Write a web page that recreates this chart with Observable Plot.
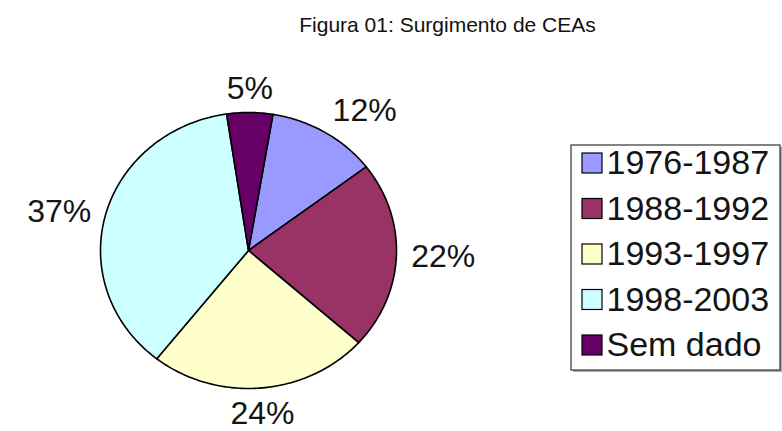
<!DOCTYPE html>
<html><head><meta charset="utf-8">
<script src="https://cdn.jsdelivr.net/npm/d3@7"></script>
<script src="https://cdn.jsdelivr.net/npm/@observablehq/plot@0.6"></script>
<style>html,body{margin:0;padding:0;background:#fff}#chart{width:782px;height:431px}</style>
</head><body><div id="chart"></div>
<script>
const title = "Figura 01: Surgimento de CEAs";
const categories = ["1976-1987", "1988-1992", "1993-1997", "1998-2003", "Sem dado"];
const shares = [12, 22, 24, 37, 5];
const shareLabels = ["12%", "22%", "24%", "37%", "5%"];
const colors = ["#9999FF", "#993366", "#FFFFCC", "#CCFFFF", "#660066"];

// layout
const W = 782, H = 431;
const cx = 248, cy = 250, rx = 148, ry = 138;
const startDeg = 9.5;
const xp = px => (px - cx) / rx;
const yp = py => (cy - py) / ry;

const arcs = d3.pie().sort(null)
  .startAngle(startDeg * Math.PI / 180)
  .endAngle((startDeg + 360) * Math.PI / 180)(shares);

const slicePts = [];
arcs.forEach((a, i) => {
  const cat = categories[i];
  slicePts.push({cat, x: 0, y: 0});
  const n = Math.max(2, Math.ceil((a.endAngle - a.startAngle) / (Math.PI / 180)));
  for (let k = 0; k <= n; k++) {
    const t = a.startAngle + (a.endAngle - a.startAngle) * k / n;
    slicePts.push({cat, x: Math.sin(t), y: Math.cos(t)});
  }
  slicePts.push({cat, x: 0, y: 0});
});

const labelData = arcs.map((a, i) => {
  const m = (a.startAngle + a.endAngle) / 2;
  const s = Math.sin(m), c = Math.cos(m), r = 1.1;
  return {
    label: shareLabels[i], x: r * s, y: r * c,
    ta: s > 0.3 ? "start" : s < -0.3 ? "end" : "middle",
    la: c > 0.3 ? "bottom" : c < -0.3 ? "top" : "middle"
  };
});
const labelMarks = [];
for (const ta of ["start", "middle", "end"]) for (const la of ["top", "middle", "bottom"]) {
  const d = labelData.filter(o => o.ta === ta && o.la === la);
  if (d.length) labelMarks.push(Plot.text(d, {x: "x", y: "y", text: "label", textAnchor: ta, lineAnchor: la, fontSize: 32, fill: "#141414"}));
}

const rowY = i => 163 + 45.5 * i;
const legendRows = categories.map((c, i) => ({
  cat: c,
  x1: xp(582), x2: xp(602), y1: yp(rowY(i) - 10), y2: yp(rowY(i) + 10),
  tx: xp(606), ty: yp(rowY(i))
}));
const box = [{x1: xp(571), x2: xp(780), y1: yp(145), y2: yp(370)}];
const shadow = [{x1: xp(573), x2: xp(782), y1: yp(147), y2: yp(372)}];

const chart = Plot.plot({
  width: W, height: H,
  marginTop: 0, marginRight: 0, marginBottom: 0, marginLeft: 0,
  x: {domain: [-1, 1], range: [cx - rx, cx + rx], axis: null},
  y: {domain: [-1, 1], range: [cy + ry, cy - ry], axis: null},
  color: {domain: categories, range: colors},
  style: {fontFamily: "'Liberation Sans', Arial, sans-serif", background: "#fff"},
  marks: [
    Plot.line(slicePts, {x: "x", y: "y", z: "cat", fill: "cat", stroke: "#000", strokeWidth: 1.6, strokeLinejoin: "round", curve: "linear"}),
    ...labelMarks,
    Plot.text([title], {x: [xp(447)], y: [yp(25)], text: d => d, fontSize: 21, fill: "#111", lineAnchor: "middle"}),
    Plot.rect(shadow, {x1: "x1", x2: "x2", y1: "y1", y2: "y2", fill: "#aaa"}),
    Plot.rect(box, {x1: "x1", x2: "x2", y1: "y1", y2: "y2", fill: "#fff", stroke: "#333", strokeWidth: 1.2}),
    Plot.rect(legendRows, {x1: "x1", x2: "x2", y1: "y1", y2: "y2", fill: "cat", stroke: "#000", strokeWidth: 1.2}),
    Plot.text(legendRows, {x: "tx", y: "ty", text: "cat", textAnchor: "start", lineAnchor: "middle", fontSize: 34, fill: "#141414"})
  ]
});
document.getElementById("chart").appendChild(chart);
</script>
</body></html>
